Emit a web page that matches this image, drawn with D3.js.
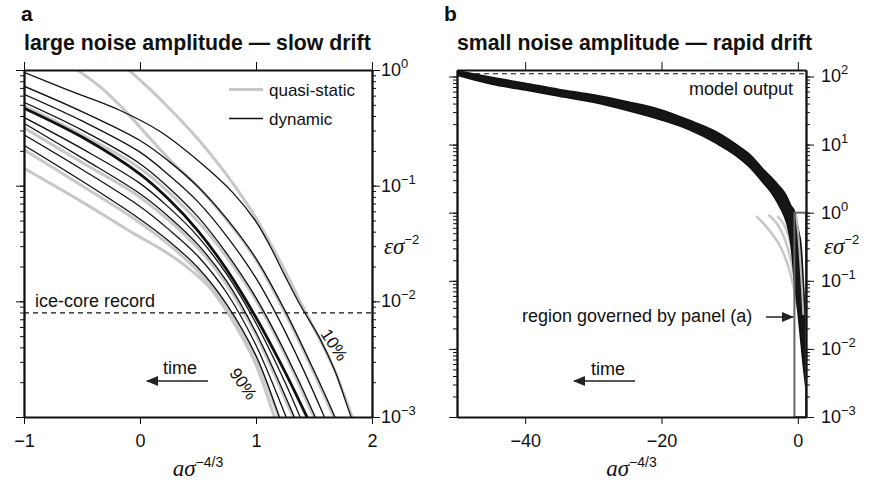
<!DOCTYPE html>
<html>
<head>
<meta charset="utf-8">
<script src="https://cdn.jsdelivr.net/npm/d3@7"></script>
<style>
  body { margin: 0; background: #fff; }
  text { font-family: "Liberation Sans", Arial, Helvetica, sans-serif; fill: #111; }
  .math { font-family: "Liberation Serif", "DejaVu Serif", serif; font-style: italic; }
</style>
</head>
<body>
<script>
// values are log10(eps sigma^-2) against a sigma^(-4/3)

// panel a: dynamic curves, 10% ... 90%
const pctA = [10, 20, 30, 40, 50, 60, 70, 80, 90];
const dynamicA = [
  [[-1,-0.02],[-0.63,-0.17],[-0.17,-0.35],[0.17,-0.53],[0.52,-0.80],[0.8,-1.06],[1.0,-1.31],[1.12,-1.52],[1.25,-1.78],[1.38,-2.03],[1.55,-2.32],[1.68,-2.60],[1.82,-3.0],[1.86,-3.1]],
  [[-1,-0.14],[-0.5,-0.36],[0,-0.61],[0.25,-0.79],[0.5,-1.01],[0.75,-1.29],[1.0,-1.63],[1.25,-2.08],[1.5,-2.60],[1.68,-3.0],[1.72,-3.1]],
  [[-1,-0.21],[-0.5,-0.44],[0,-0.71],[0.25,-0.91],[0.5,-1.14],[0.75,-1.44],[1.0,-1.80],[1.25,-2.26],[1.59,-3.0],[1.63,-3.1]],
  [[-1,-0.28],[-0.5,-0.52],[0,-0.81],[0.25,-1.02],[0.5,-1.27],[0.75,-1.59],[1.0,-1.97],[1.25,-2.44],[1.51,-3.0],[1.55,-3.1]],
  [[-1,-0.33],[-0.5,-0.58],[0,-0.90],[0.25,-1.12],[0.5,-1.39],[0.75,-1.73],[1.0,-2.14],[1.25,-2.61],[1.44,-3.0],[1.49,-3.1]],
  [[-1,-0.41],[-0.5,-0.68],[0,-0.98],[0.25,-1.19],[0.5,-1.44],[0.75,-1.77],[1.0,-2.19],[1.25,-2.70],[1.38,-3.0],[1.42,-3.1]],
  [[-1,-0.46],[-0.5,-0.76],[0,-1.07],[0.25,-1.27],[0.5,-1.51],[0.75,-1.83],[1.0,-2.27],[1.33,-3.0],[1.37,-3.1]],
  [[-1,-0.56],[-0.5,-0.86],[0,-1.18],[0.25,-1.38],[0.5,-1.61],[0.75,-1.93],[1.0,-2.38],[1.26,-3.0],[1.30,-3.1]],
  [[-1,-0.65],[-0.5,-0.96],[0,-1.29],[0.25,-1.48],[0.5,-1.71],[0.75,-2.03],[1.0,-2.47],[1.18,-2.94],[1.22,-3.06]]
];
// panel a: quasi-static curves (grey)
const quasiA = [
  [[-0.12,0.02],[0.09,-0.17],[0.3,-0.38],[0.52,-0.62],[0.72,-0.87],[0.95,-1.20],[1.2,-1.64],[1.38,-2.0],[1.55,-2.33],[1.68,-2.60],[1.83,-3.0],[1.87,-3.1]],
  [[-0.57,0.02],[-0.35,-0.14],[-0.15,-0.33],[0.05,-0.55],[0.25,-0.77],[0.5,-1.01],[0.75,-1.30],[1.0,-1.64],[1.25,-2.10],[1.5,-2.62],[1.68,-3.02],[1.72,-3.1]],
  [[-1,-0.31],[-0.5,-0.56],[0,-0.85],[0.5,-1.31],[0.75,-1.62],[1.0,-1.99],[1.25,-2.46],[1.50,-3.0],[1.55,-3.1]],
  [[-1,-0.50],[-0.5,-0.80],[0,-1.10],[0.5,-1.54],[0.75,-1.86],[1.0,-2.29],[1.32,-3.0],[1.37,-3.1]],
  [[-1,-0.69],[-0.5,-1.0],[0,-1.32],[0.25,-1.51],[0.5,-1.74],[0.75,-2.06],[1.0,-2.49],[1.17,-2.93],[1.21,-3.05]],
  [[-1,-0.85],[-0.5,-1.14],[-0.06,-1.41],[0.2,-1.56],[0.4,-1.70],[0.6,-1.88],[0.8,-2.17],[1.0,-2.55],[1.16,-3.0],[1.2,-3.1]]
];
const iceCoreLevel = -2.1;
const ticksXA = [-1, 0, 1, 2];
const decadesA = [0, -1, -2, -3];

// panel b: band of dynamic curves (upper and lower edge)
const bandX     = [-50, -45, -40, -35, -30, -25, -20, -16, -12, -9, -7, -5, -4, -3, -2, -1.5, -1, -0.5, 0, 0.5, 0.8, 1.2];
const bandUpper = [2.085, 1.99, 1.90, 1.81, 1.73, 1.63, 1.51, 1.36, 1.19, 1.00, 0.85, 0.63, 0.53, 0.42, 0.30, 0.21, 0.10, 0.02, -0.22, -0.50, -1.0, -1.7];
const bandLower = [2.02, 1.89, 1.80, 1.71, 1.62, 1.50, 1.36, 1.22, 1.02, 0.83, 0.66, 0.43, 0.31, 0.15, -0.05, -0.20, -0.48, -1.0, -1.45, -1.95, -2.25, -2.6];
const quasiB = [
  [[-6.1,-0.05],[-4.5,-0.22],[-2.6,-0.49],[-1.4,-0.79],[-0.6,-1.1],[0,-1.4]],
  [[-4.3,-0.03],[-3,-0.17],[-1.8,-0.42],[-0.9,-0.75],[-0.3,-1.1],[0.2,-1.45]],
  [[-3.0,-0.05],[-2,-0.18],[-1.1,-0.43],[-0.4,-0.78],[0.1,-1.1],[0.5,-1.5]]
];
const quasiBTop = [[-0.25,-0.03],[0.05,-0.3],[0.35,-0.7],[0.6,-1.1],[0.8,-1.5]];
const modelOutputLevel = 2.04;
const regionX = [-0.5, 1.2];
const regionY = [0, -3];
const ticksXB = [-40, -20, 0];
const decadesB = [2, 1, 0, -1, -2, -3];

const svg = d3.select("body").append("svg")
  .attr("width", 894)
  .attr("height", 485);

const defs = svg.append("defs");
defs.append("marker")
  .attr("id", "head")
  .attr("viewBox", "0 0 12 10")
  .attr("refX", 11).attr("refY", 5)
  .attr("markerWidth", 12).attr("markerHeight", 10)
  .attr("markerUnits", "userSpaceOnUse")
  .attr("orient", "auto")
  .append("path")
  .attr("d", "M0,0 L12,5 L0,10 Z")
  .attr("fill", "#222");

const minus = d => d < 0 ? "\u2212" + Math.abs(d) : String(d);

// scales
const xa = d3.scaleLinear().domain([-1, 2]).range([24, 372]);
const ya = d3.scaleLog().domain([1e-3, 1]).range([417, 70]);
const xb = d3.scaleLinear().domain([-50, 1.2]).range([457, 806]);
const yb = d3.scaleLog().domain([1e-3, Math.pow(10, 2.095)]).range([417, 70]);

function clip(id, x, y) {
  defs.append("clipPath").attr("id", id)
    .append("rect")
    .attr("x", x.range()[0]).attr("y", y.range()[1])
    .attr("width", x.range()[1] - x.range()[0])
    .attr("height", y.range()[0] - y.range()[1]);
}
clip("clipA", xa, ya);
clip("clipB", xb, yb);

function lineFor(x, y) {
  return d3.line()
    .x(d => x(d[0]))
    .y(d => y(Math.pow(10, d[1])))
    .curve(d3.curveCatmullRom.alpha(0.5));
}

function styleAxis(g) {
  g.select(".domain").attr("stroke", "#111").attr("stroke-width", 1.8);
  g.selectAll(".tick line").attr("stroke", "#111").attr("stroke-width", 1);
  g.selectAll(".tick text").style("font-size", "18px").attr("fill", "#111");
}

function frame(x, y, xticks, decades, labelX, xlabelY) {
  const [x0, x1] = x.range();
  const [y1, y0] = y.range();
  const majors = decades.map(k => Math.pow(10, k));
  // left + right minor / major ticks
  [[d3.axisLeft, x0], [d3.axisRight, x1]].forEach(([ax, pos]) => {
    svg.append("g").attr("transform", `translate(${pos},0)`)
      .call(ax(y).tickValues(y.ticks()).tickSize(4).tickSizeOuter(0).tickFormat(""))
      .call(styleAxis);
    svg.append("g").attr("transform", `translate(${pos},0)`)
      .call(ax(y).tickValues(majors).tickSize(8).tickSizeOuter(0).tickFormat(""))
      .call(styleAxis);
  });
  svg.append("g").attr("transform", `translate(0,${y0})`)
    .call(d3.axisTop(x).tickValues(xticks).tickSize(8).tickSizeOuter(0).tickFormat(""))
    .call(styleAxis);
  svg.append("g").attr("transform", `translate(0,${y1})`)
    .call(d3.axisBottom(x).tickValues(xticks).tickSize(7).tickPadding(10).tickSizeOuter(0).tickFormat(minus))
    .call(styleAxis);

  // right-hand decade labels 10^k
  decades.forEach(k => {
    const t = svg.append("text")
      .attr("x", labelX)
      .attr("y", y(Math.pow(10, k)) + 6)
      .style("font-size", "18px");
    t.append("tspan").text("10");
    t.append("tspan").attr("dy", -8).style("font-size", "13px").text(minus(k));
  });

  // y label on right
  const ylab = svg.append("text").attr("x", labelX + 3).attr("y", 254);
  ylab.append("tspan").attr("class", "math").style("font-size", "23px").text("\u03b5\u03c3");
  ylab.append("tspan").attr("dy", -10).style("font-size", "13px").text("\u22122");

  // x label
  const xlab = svg.append("text")
    .attr("x", (x0 + x1) / 2).attr("y", xlabelY)
    .attr("text-anchor", "middle");
  xlab.append("tspan").attr("class", "math").style("font-size", "23px").text("a\u03c3");
  xlab.append("tspan").attr("dy", -9).style("font-size", "14px").text("\u22124/3");
}

function arrow(xFrom, xTo, yy) {
  svg.append("line")
    .attr("x1", xFrom).attr("y1", yy)
    .attr("x2", xTo).attr("y2", yy)
    .attr("stroke", "#222").attr("stroke-width", 1.5)
    .attr("marker-end", "url(#head)");
}

// ---------------- panel a ----------------
const gA = svg.append("g").attr("clip-path", "url(#clipA)");
const lineA = lineFor(xa, ya);

gA.selectAll(".quasi")
  .data(quasiA)
  .enter().append("path")
  .attr("d", lineA)
  .attr("fill", "none")
  .attr("stroke", "#c8c8c8")
  .attr("stroke-width", 3);

gA.selectAll(".dyn")
  .data(dynamicA)
  .enter().append("path")
  .attr("d", lineA)
  .attr("fill", "none")
  .attr("stroke", "#111")
  .attr("stroke-width", (d, i) => pctA[i] === 50 ? 2.8 : 1.3);

gA.append("line")
  .attr("x1", xa(-1)).attr("x2", xa(2))
  .attr("y1", ya(Math.pow(10, iceCoreLevel))).attr("y2", ya(Math.pow(10, iceCoreLevel)))
  .attr("stroke", "#111").attr("stroke-width", 1.2)
  .attr("stroke-dasharray", "5,4");

frame(xa, ya, ticksXA, decadesA, 381, 476);

svg.append("text").attr("x", 35).attr("y", 307).style("font-size", "18px").text("ice-core record");
svg.append("text").attr("x", 163).attr("y", 374).style("font-size", "18px").text("time");
arrow(208, 147, 381);

svg.append("text")
  .attr("transform", "translate(334,345) rotate(57)")
  .attr("text-anchor", "middle").attr("dominant-baseline", "central")
  .style("font-size", "17px").text(pctA[0] + "%");
svg.append("text")
  .attr("transform", "translate(243,384) rotate(55)")
  .attr("text-anchor", "middle").attr("dominant-baseline", "central")
  .style("font-size", "17px").text(pctA[8] + "%");

// legend
svg.append("line").attr("x1", 229).attr("x2", 263).attr("y1", 89.5).attr("y2", 89.5)
  .attr("stroke", "#c8c8c8").attr("stroke-width", 3);
svg.append("text").attr("x", 269).attr("y", 95.5).style("font-size", "17px").text("quasi-static");
svg.append("line").attr("x1", 229).attr("x2", 263).attr("y1", 118.5).attr("y2", 118.5)
  .attr("stroke", "#111").attr("stroke-width", 1.3);
svg.append("text").attr("x", 269).attr("y", 124.5).style("font-size", "17px").text("dynamic");

// ---------------- panel b ----------------
const gB = svg.append("g").attr("clip-path", "url(#clipB)");
const lineB = lineFor(xb, yb);

gB.selectAll(".quasiB")
  .data(quasiB)
  .enter().append("path")
  .attr("d", lineB)
  .attr("fill", "none")
  .attr("stroke", "#c8c8c8")
  .attr("stroke-width", 2.5);

const band = bandX.map((v, i) => ({ x: v, hi: bandUpper[i], lo: bandLower[i] }));
gB.append("path")
  .datum(band)
  .attr("d", d3.area()
    .x(d => xb(d.x))
    .y0(d => yb(Math.pow(10, d.lo)))
    .y1(d => yb(Math.pow(10, d.hi)))
    .curve(d3.curveMonotoneX))
  .attr("fill", "#151515")
  .attr("stroke", "#111")
  .attr("stroke-width", 1.5)
  .attr("stroke-linejoin", "round");

gB.append("path")
  .datum(quasiBTop)
  .attr("d", lineB)
  .attr("fill", "none")
  .attr("stroke", "#bbb")
  .attr("stroke-width", 2);

gB.append("line")
  .attr("x1", xb(-50)).attr("x2", xb(1.2))
  .attr("y1", yb(Math.pow(10, modelOutputLevel))).attr("y2", yb(Math.pow(10, modelOutputLevel)))
  .attr("stroke", "#111").attr("stroke-width", 1.2)
  .attr("stroke-dasharray", "5,4");

svg.append("rect")
  .attr("x", xb(regionX[0]))
  .attr("y", yb(Math.pow(10, regionY[0])))
  .attr("width", xb(regionX[1]) - xb(regionX[0]))
  .attr("height", yb(Math.pow(10, regionY[1])) - yb(Math.pow(10, regionY[0])))
  .attr("fill", "none")
  .attr("stroke", "#666")
  .attr("stroke-width", 2);

frame(xb, yb, ticksXB, decadesB, 821, 476);

svg.append("text").attr("x", 793).attr("y", 95).attr("text-anchor", "end")
  .style("font-size", "18px").text("model output");
svg.append("text").attr("x", 522).attr("y", 322).style("font-size", "18px").text("region governed by panel (a)");
arrow(766, 793, 317);
svg.append("text").attr("x", 591).attr("y", 375).style("font-size", "18px").text("time");
arrow(635, 574, 381);

// titles and panel letters
svg.append("text").attr("x", 21).attr("y", 21).style("font-size", "21px").style("font-weight", "bold").text("a");
svg.append("text").attr("x", 444).attr("y", 21).style("font-size", "21px").style("font-weight", "bold").text("b");
svg.append("text").attr("x", 24).attr("y", 50).style("font-size", "21.3px").style("font-weight", "bold")
  .text("large noise amplitude \u2014 slow drift");
svg.append("text").attr("x", 457).attr("y", 50).style("font-size", "21.3px").style("font-weight", "bold")
  .text("small noise amplitude \u2014 rapid drift");
</script>
</body>
</html>
